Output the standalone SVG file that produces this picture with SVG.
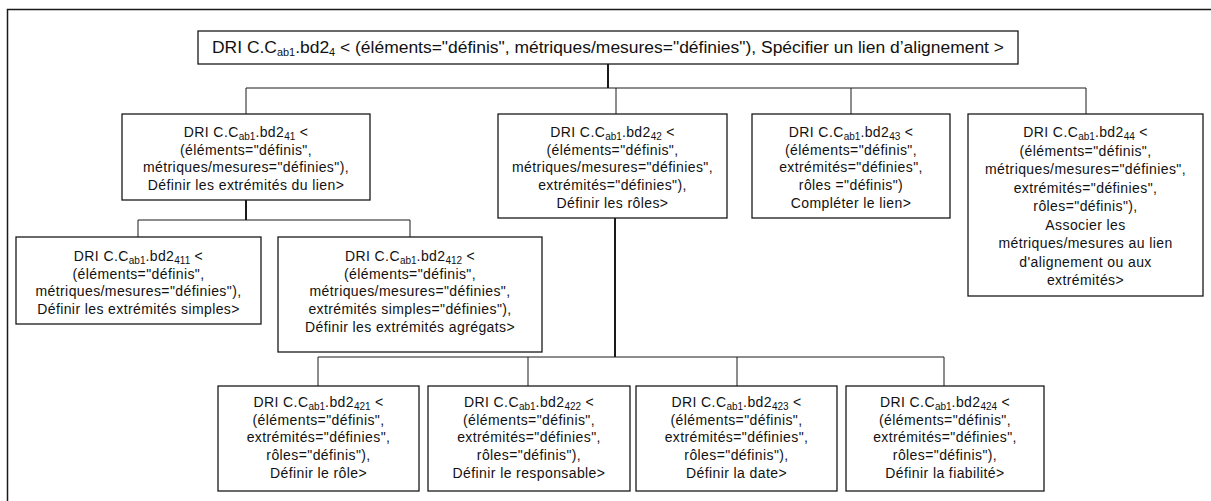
<svg xmlns="http://www.w3.org/2000/svg" width="1211" height="501" viewBox="0 0 1211 501">
<style>
.bg{fill:#fff}
.frame{fill:none;stroke:#1a1a1a;stroke-width:1.5}
.box{fill:#fff;stroke:#1a1a1a;stroke-width:1.3}
.t{font-family:"Liberation Sans",Arial,sans-serif;font-size:14px;fill:#111;text-anchor:middle;letter-spacing:0.4px}
.tt{font-family:"Liberation Sans",Arial,sans-serif;font-size:16px;fill:#111;text-anchor:middle}
.sub{font-size:10px;letter-spacing:0}
.c{fill:none;stroke:#1a1a1a;stroke-width:1}
.c2{fill:none;stroke:#1a1a1a;stroke-width:2}
</style>
<rect class="bg" x="0" y="0" width="1211" height="501"/>
<path class="frame" d="M1211,9.5 H7.5 V501"/>
<g id="connectors">
<path class="c2" d="M608,64 V88"/>
<path class="c" d="M246,88 H1086 M246,88 V114 M616,88 V114 M851,88 V114 M1086,88 V114"/>
<path class="c2" d="M246,200 V220"/>
<path class="c" d="M138,220 H410 M138,220 V237 M410,220 V237"/>
<path class="c2" d="M615,218 V357"/>
<path class="c" d="M318,357 H944 M318,357 V386 M528,357 V386 M737,357 V386 M944,357 V386"/>
</g>
<g id="n4">
<rect class="box" x="198" y="31" width="820" height="33"/>
<text class="tt" x="608" y="53" textLength="792" lengthAdjust="spacingAndGlyphs">DRI C.C<tspan class="sub" dy="3">ab1</tspan><tspan dy="-3">.bd2</tspan><tspan class="sub" dy="3">4</tspan><tspan dy="-3"> &lt; (éléments="définis", métriques/mesures="définies"), Spécifier un lien d’alignement &gt;</tspan></text>
</g>
<g id="n41">
<rect class="box" x="122" y="114" width="248" height="86"/>
<text class="t" x="246" y="137">DRI C.C<tspan class="sub" dy="3">ab1</tspan><tspan dy="-3">.bd2</tspan><tspan class="sub" dy="3">41</tspan><tspan dy="-3"> &lt;</tspan></text>
<text class="t" x="246" y="154.7">(éléments="définis",</text>
<text class="t" x="246" y="172.4">métriques/mesures="définies"),</text>
<text class="t" x="246" y="190.1">Définir les extrémités du lien&gt;</text>
</g>
<g id="n42">
<rect class="box" x="498" y="114" width="229" height="104"/>
<text class="t" x="612.5" y="137">DRI C.C<tspan class="sub" dy="3">ab1</tspan><tspan dy="-3">.bd2</tspan><tspan class="sub" dy="3">42</tspan><tspan dy="-3"> &lt;</tspan></text>
<text class="t" x="612.5" y="154.7">(éléments="définis",</text>
<text class="t" x="612.5" y="172.4">métriques/mesures="définies",</text>
<text class="t" x="612.5" y="190.1">extrémités="définies"),</text>
<text class="t" x="612.5" y="207.8">Définir les rôles&gt;</text>
</g>
<g id="n43">
<rect class="box" x="752" y="114" width="198" height="104"/>
<text class="t" x="851" y="137">DRI C.C<tspan class="sub" dy="3">ab1</tspan><tspan dy="-3">.bd2</tspan><tspan class="sub" dy="3">43</tspan><tspan dy="-3"> &lt;</tspan></text>
<text class="t" x="851" y="154.7">(éléments="définis",</text>
<text class="t" x="851" y="172.4">extrémités="définies",</text>
<text class="t" x="851" y="190.1">rôles ="définis")</text>
<text class="t" x="851" y="207.8">Compléter le lien&gt;</text>
</g>
<g id="n44">
<rect class="box" x="968" y="114" width="235" height="182"/>
<text class="t" x="1085.5" y="137">DRI C.C<tspan class="sub" dy="3">ab1</tspan><tspan dy="-3">.bd2</tspan><tspan class="sub" dy="3">44</tspan><tspan dy="-3"> &lt;</tspan></text>
<text class="t" x="1085.5" y="155.5">(éléments="définis",</text>
<text class="t" x="1085.5" y="174">métriques/mesures="définies",</text>
<text class="t" x="1085.5" y="192.5">extrémités="définies",</text>
<text class="t" x="1085.5" y="211">rôles="définis"),</text>
<text class="t" x="1085.5" y="229.5">Associer les</text>
<text class="t" x="1085.5" y="248">métriques/mesures au lien</text>
<text class="t" x="1085.5" y="266.5">d'alignement ou aux</text>
<text class="t" x="1085.5" y="285">extrémités&gt;</text>
</g>
<g id="n411">
<rect class="box" x="16" y="237" width="245" height="87"/>
<text class="t" x="138.5" y="261">DRI C.C<tspan class="sub" dy="3">ab1</tspan><tspan dy="-3">.bd2</tspan><tspan class="sub" dy="3">411</tspan><tspan dy="-3"> &lt;</tspan></text>
<text class="t" x="138.5" y="278.7">(éléments="définis",</text>
<text class="t" x="138.5" y="296.4">métriques/mesures="définies"),</text>
<text class="t" x="138.5" y="314.1">Définir les extrémités simples&gt;</text>
</g>
<g id="n412">
<rect class="box" x="278" y="237" width="264" height="115"/>
<text class="t" x="410" y="261">DRI C.C<tspan class="sub" dy="3">ab1</tspan><tspan dy="-3">.bd2</tspan><tspan class="sub" dy="3">412</tspan><tspan dy="-3"> &lt;</tspan></text>
<text class="t" x="410" y="278.7">(éléments="définis",</text>
<text class="t" x="410" y="296.4">métriques/mesures="définies",</text>
<text class="t" x="410" y="314.1">extrémités simples="définies"),</text>
<text class="t" x="410" y="331.8">Définir les extrémités agrégats&gt;</text>
</g>
<g id="n421">
<rect class="box" x="218" y="386" width="201" height="105"/>
<text class="t" x="318.5" y="407">DRI C.C<tspan class="sub" dy="3">ab1</tspan><tspan dy="-3">.bd2</tspan><tspan class="sub" dy="3">421</tspan><tspan dy="-3"> &lt;</tspan></text>
<text class="t" x="318.5" y="424.7">(éléments="définis",</text>
<text class="t" x="318.5" y="442.4">extrémités="définies",</text>
<text class="t" x="318.5" y="460.1">rôles="définis"),</text>
<text class="t" x="318.5" y="477.8">Définir le rôle&gt;</text>
</g>
<g id="n422">
<rect class="box" x="428" y="386" width="202" height="105"/>
<text class="t" x="529" y="407">DRI C.C<tspan class="sub" dy="3">ab1</tspan><tspan dy="-3">.bd2</tspan><tspan class="sub" dy="3">422</tspan><tspan dy="-3"> &lt;</tspan></text>
<text class="t" x="529" y="424.7">(éléments="définis",</text>
<text class="t" x="529" y="442.4">extrémités="définies",</text>
<text class="t" x="529" y="460.1">rôles="définis"),</text>
<text class="t" x="529" y="477.8">Définir le responsable&gt;</text>
</g>
<g id="n423">
<rect class="box" x="636" y="386" width="201" height="105"/>
<text class="t" x="736.5" y="407">DRI C.C<tspan class="sub" dy="3">ab1</tspan><tspan dy="-3">.bd2</tspan><tspan class="sub" dy="3">423</tspan><tspan dy="-3"> &lt;</tspan></text>
<text class="t" x="736.5" y="424.7">(éléments="définis",</text>
<text class="t" x="736.5" y="442.4">extrémités="définies",</text>
<text class="t" x="736.5" y="460.1">rôles="définis"),</text>
<text class="t" x="736.5" y="477.8">Définir la date&gt;</text>
</g>
<g id="n424">
<rect class="box" x="846" y="386" width="198" height="105"/>
<text class="t" x="945" y="407">DRI C.C<tspan class="sub" dy="3">ab1</tspan><tspan dy="-3">.bd2</tspan><tspan class="sub" dy="3">424</tspan><tspan dy="-3"> &lt;</tspan></text>
<text class="t" x="945" y="424.7">(éléments="définis",</text>
<text class="t" x="945" y="442.4">extrémités="définies",</text>
<text class="t" x="945" y="460.1">rôles="définis"),</text>
<text class="t" x="945" y="477.8">Définir la fiabilité&gt;</text>
</g>
</svg>
